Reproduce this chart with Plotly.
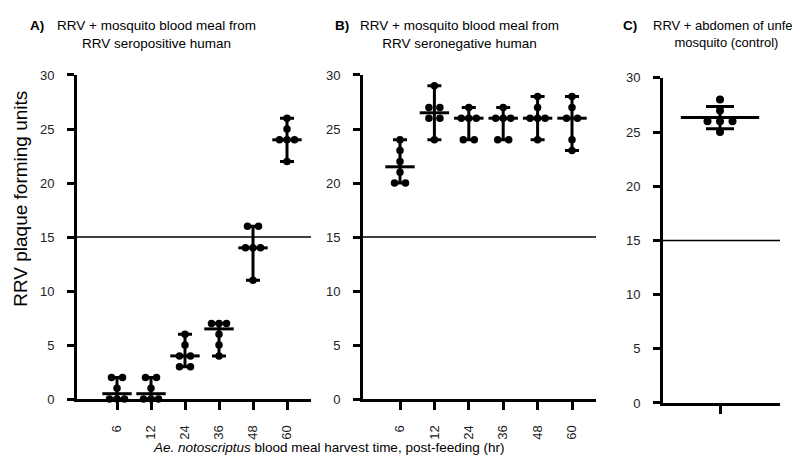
import numpy as np
import plotly.graph_objects as go
from collections import Counter

# ---------------- data ----------------
hours = ["6", "12", "24", "36", "48", "60"]
seropositive_A = [
    [0, 0, 0, 1, 2, 2],
    [0, 0, 0, 1, 2, 2],
    [3, 3, 4, 4, 5, 6],
    [4, 5, 6, 7, 7, 7],
    [11, 14, 14, 14, 16, 16],
    [22, 24, 24, 24, 25, 26],
]
seronegative_B = [
    [20, 20, 21, 22, 23, 24],
    [24, 26, 26, 27, 27, 29],
    [24, 24, 26, 26, 26, 27],
    [24, 24, 26, 26, 26, 27],
    [24, 26, 26, 26, 27, 28],
    [23, 24, 26, 26, 27, 28],
]
control_C = [25, 26, 26, 26, 27, 28]
threshold = 15
y_ticks = [0, 5, 10, 15, 20, 25, 30]

W, H = 800, 462
FONT = "Liberation Sans, Arial, sans-serif"


def fx(p):
    return p / W


def fy(p):
    return 1 - p / H


def jitter(vals, px_per_unit, pair_sep=11.0, spacing=7.5):
    cnt = Counter(vals)
    seen = Counter()
    offs = []
    for v in vals:
        k = cnt[v]
        i = seen[v]
        seen[v] += 1
        s = pair_sep if k == 2 else spacing
        offs.append((i - (k - 1) / 2) * s / px_per_unit)
    return offs


fig = go.Figure()

# panel geometry (pixels)
panels = {
    "A": dict(x0=69, x1=303, first=109, step=34.0, ytop=62, ybot=397),
    "B": dict(x0=355, x1=588, first=392, step=34.4, ytop=62, ybot=397),
    "C": dict(x0=655, x1=772, first=712, step=50.0, ytop=65, ybot=401),
}

axis_common = dict(
    showline=True, linewidth=3, linecolor="black", ticks="outside",
    tickwidth=3, tickcolor="black", showgrid=False, zeroline=False,
    tickfont=dict(family=FONT, size=13, color="#222"),
)


def add_median_range(groups, xa, ya, ppu):
    meds = [float(np.median(g)) for g in groups]
    hi = [max(g) - m for g, m in zip(groups, meds)]
    lo = [m - min(g) for g, m in zip(groups, meds)]
    idx = list(range(len(groups)))
    fig.add_trace(go.Scatter(
        x=idx, y=meds, mode="markers", xaxis=xa, yaxis=ya, cliponaxis=False,
        marker=dict(symbol="line-ew", size=21, line=dict(width=3, color="black")),
        error_y=dict(type="data", symmetric=False, array=hi, arrayminus=lo,
                     thickness=3, width=7, color="black"),
        showlegend=False, hoverinfo="skip"))
    xs, ys = [], []
    for i, g in enumerate(groups):
        offs = jitter(g, ppu)
        xs += [i + o for o in offs]
        ys += g
    fig.add_trace(go.Scatter(
        x=xs, y=ys, mode="markers", xaxis=xa, yaxis=ya, cliponaxis=False,
        marker=dict(size=7.5, color="black"), showlegend=False))


add_median_range(seropositive_A, "x", "y", panels["A"]["step"])
add_median_range(seronegative_B, "x2", "y2", panels["B"]["step"])

# panel C: mean with SD
mC = float(np.mean(control_C))
sdC = float(np.std(control_C, ddof=1))
fig.add_trace(go.Scatter(
    x=[0], y=[mC], mode="markers", xaxis="x3", yaxis="y3", cliponaxis=False,
    marker=dict(symbol="line-ew", size=56, line=dict(width=3, color="black")),
    error_y=dict(type="data", array=[sdC], thickness=3, width=14, color="black"),
    showlegend=False))
offC = jitter(control_C, panels["C"]["step"], pair_sep=14, spacing=12.5)
fig.add_trace(go.Scatter(
    x=offC, y=control_C, mode="markers", xaxis="x3", yaxis="y3", cliponaxis=False,
    marker=dict(size=8, color="black"), showlegend=False))

layout = {}
for k, name in enumerate(["A", "B", "C"]):
    p = panels[name]
    sfx = "" if k == 0 else str(k + 1)
    rng = [-(p["first"] - p["x0"]) / p["step"], (p["x1"] - p["first"]) / p["step"]]
    xax = dict(axis_common, domain=[fx(p["x0"]), fx(p["x1"])], range=rng,
               anchor="y" + sfx, ticklen=8)
    if name == "C":
        xax.update(tickvals=[0], ticktext=[""])
    else:
        xax.update(tickvals=list(range(len(hours))), ticktext=hours,
                   tickangle=-90, ticklabelstandoff=10)
    yax = dict(axis_common, domain=[fy(p["ybot"]), fy(p["ytop"])], range=[0, 30],
               tickvals=y_ticks, anchor="x" + sfx, ticklen=7, ticklabelstandoff=10)
    layout["xaxis" + sfx] = xax
    layout["yaxis" + sfx] = yax
    fig.add_shape(type="line", xref="x" + sfx + " domain", yref="y" + sfx,
                  x0=0, x1=1, y0=threshold, y1=threshold,
                  line=dict(color="black", width=1.5))

fig.update_layout(**layout)

ann = []
title_font = dict(family=FONT, size=13.5, color="black")
for lx, lab in [(20, "A)"), (325, "B)"), (613, "C)")]:
    ann.append(dict(x=fx(lx), y=fy(11), xref="paper", yref="paper", text="<b>" + lab + "</b>",
                    showarrow=False, xanchor="left", yanchor="middle", font=title_font))
ann.append(dict(x=fx(148), y=fy(1), xref="paper", yref="paper",
                text="RRV + mosquito blood meal from<br>RRV seropositive human",
                showarrow=False, xanchor="center", yanchor="top", align="center", font=title_font))
ann.append(dict(x=fx(452), y=fy(1), xref="paper", yref="paper",
                text="RRV + mosquito blood meal from<br>RRV seronegative human",
                showarrow=False, xanchor="center", yanchor="top", align="center", font=title_font))
ann.append(dict(x=fx(794), y=fy(1), xref="paper", yref="paper",
                text="RRV + abdomen of unfed<br>mosquito (control)",
                showarrow=False, xanchor="right", yanchor="top", align="center",
                font=dict(family=FONT, size=13, color="black")))
ann.append(dict(x=fx(13), y=fy(190), xref="paper", yref="paper",
                text="RRV plaque forming units", textangle=-90, showarrow=False,
                xanchor="center", yanchor="middle",
                font=dict(family=FONT, size=19, color="black")))
ann.append(dict(x=fx(320), y=fy(447), xref="paper", yref="paper",
                text="<i>Ae. notoscriptus</i> blood meal harvest time, post-feeding (hr)",
                showarrow=False, xanchor="center", yanchor="middle",
                font=dict(family=FONT, size=13.5, color="black")))

fig.update_layout(width=W, height=H, margin=dict(l=0, r=0, t=0, b=0),
                  paper_bgcolor="white", plot_bgcolor="white",
                  annotations=ann, showlegend=False)

fig.write_html("out.html")
